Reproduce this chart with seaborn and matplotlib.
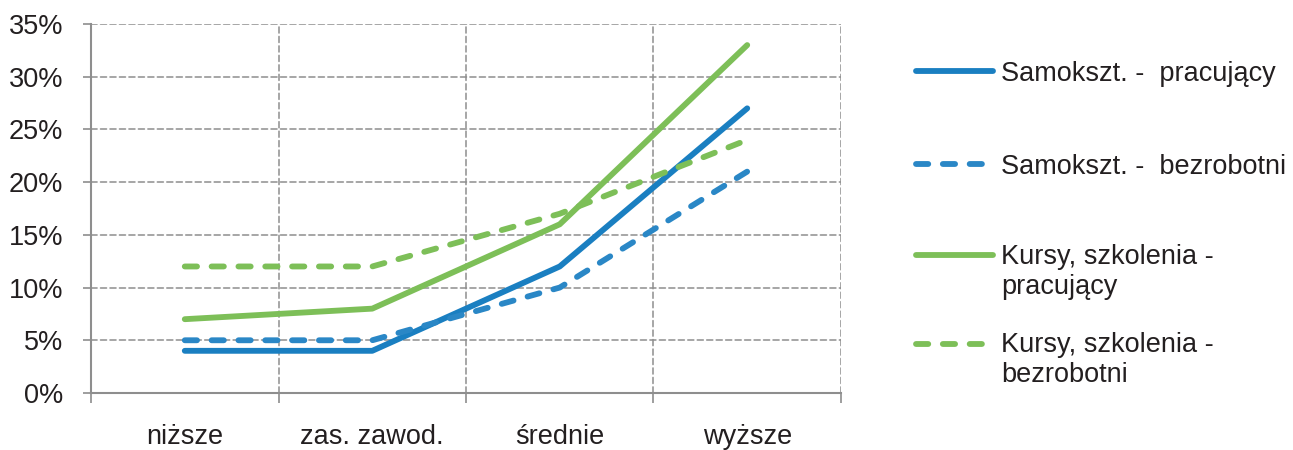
import matplotlib
matplotlib.use("Agg")
import matplotlib.pyplot as plt
from matplotlib.ticker import FixedLocator, FuncFormatter
from matplotlib.legend_handler import HandlerLine2D
import seaborn as sns

# Education levels on the x axis
categories = ["niższe", "zas. zawod.", "średnie", "wyższe"]

# Share of respondents (%) by form of learning and employment status
samokszt_pracujacy = [4, 4, 12, 27]
samokszt_bezrobotni = [5, 5, 10, 21]
kursy_pracujacy = [7, 8, 16, 33]
kursy_bezrobotni = [12, 12, 17, 24]

series_labels = [
    "Samokszt. -  pracujący",
    "Samokszt. -  bezrobotni",
    "Kursy, szkolenia -\npracujący",
    "Kursy, szkolenia -\nbezrobotni",
]

sns.set_style("white")
plt.rcParams["font.family"] = ["Liberation Sans", "DejaVu Sans"]
plt.rcParams["lines.solid_capstyle"] = "round"
plt.rcParams["lines.dash_capstyle"] = "round"

BLUE = "#1a7fc1"
BLUE_D = "#2a87c6"
GREEN = "#7dbf58"
GRID = "#8e8e8e"
TEXT = "#231f20"
FS = 19.5
LW = 4.2
DASH = (0, (2.1, 2.5))

fig = plt.figure(figsize=(12.93, 4.5), dpi=100)
ax = fig.add_axes([0.0704, 0.1267, 0.5800, 0.82])

styles = [
    (samokszt_pracujacy, BLUE, "-"),
    (samokszt_bezrobotni, BLUE_D, DASH),
    (kursy_pracujacy, GREEN, "-"),
    (kursy_bezrobotni, GREEN, DASH),
]
for (vals, col, ls), lab in zip(styles, series_labels):
    sns.lineplot(x=categories, y=vals, ax=ax, color=col, linestyle=ls,
                 linewidth=LW, label=lab, sort=False)

ax.set_xlim(-0.5, 3.5)
ax.set_ylim(0, 35)

# Boundaries between categories carry tick marks and gridlines
ax.xaxis.set_major_locator(FixedLocator([-0.5, 0.5, 1.5, 2.5, 3.5]))
ax.xaxis.set_major_formatter(FuncFormatter(lambda v, p: ""))
ax.xaxis.set_minor_locator(FixedLocator([0, 1, 2, 3]))
ax.xaxis.set_minor_formatter(FuncFormatter(lambda v, p: categories[int(round(v))]))
ax.tick_params(axis="x", which="major", direction="out", length=7,
               width=1.2, color=GRID, bottom=True)
ax.tick_params(axis="x", which="minor", length=0, pad=22.5, labelsize=FS,
               labelcolor=TEXT, bottom=True)

ax.set_yticks(range(0, 36, 5))
ax.yaxis.set_major_formatter(FuncFormatter(lambda v, p: f"{int(v)}%"))
ax.tick_params(axis="y", direction="out", length=6, width=1.2, color=GRID,
               pad=14, labelsize=FS, labelcolor=TEXT, left=True)

ax.grid(True, which="major", color=GRID, linestyle=(0, (4, 2.2)), linewidth=1.1)
ax.set_axisbelow(True)

for side in ["top", "right"]:
    ax.spines[side].set_visible(False)
for side in ["left", "bottom"]:
    ax.spines[side].set_color(GRID)
    ax.spines[side].set_linewidth(1.5)

ax.set_xlabel("")
ax.set_ylabel("")


class RaisedHandler(HandlerLine2D):
    """Legend line lifted to sit beside the first line of a two-line label."""

    def __init__(self, dy, **kw):
        super().__init__(**kw)
        self.dy = dy

    def create_artists(self, *args, **kwargs):
        artists = super().create_artists(*args, **kwargs)
        for a in artists:
            a.set_ydata([y + self.dy for y in a.get_ydata()])
        return artists


handles, labels = ax.get_legend_handles_labels()

common = dict(loc="upper left", bbox_transform=fig.transFigure, frameon=False,
              fontsize=FS, handlelength=2.85, handletextpad=0.3,
              borderpad=0, borderaxespad=0, labelcolor=TEXT)

leg_top = ax.legend(handles[:2], labels[:2], bbox_to_anchor=(0.7085, 0.865),
                    labelspacing=2.48, **common)
ax.add_artist(leg_top)
ax.legend(handles[2:], labels[2:], bbox_to_anchor=(0.7085, 0.458),
          labelspacing=1.2,
          handler_map={h: RaisedHandler(12.5) for h in handles[2:]}, **common)

fig.savefig("out.png", dpi=100)
